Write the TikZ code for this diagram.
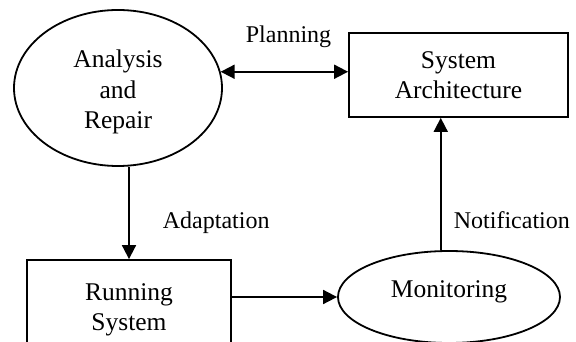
\documentclass[tikz,border=0pt]{standalone}
\usepackage{fontspec}
\setmainfont{Liberation Serif}
\usetikzlibrary{shapes.geometric,arrows.meta}
\begin{document}
\begin{tikzpicture}[x=1pt,y=-1pt,
  line width=1.8pt,
  every node/.style={inner sep=0pt},
  maintext/.style={font=\fontsize{25.5}{30.5}\selectfont, align=center},
  flowlabel/.style={font=\fontsize{24}{28}\selectfont},
  oval/.style={draw, ellipse, maintext},
  block/.style={draw, rectangle, maintext},
  flow/.style={-{Triangle[length=14pt,width=14pt]}},
  twoway/.style={{Triangle[length=14pt,width=14pt]}-{Triangle[length=14pt,width=14pt]}}]
  \useasboundingbox (0,0) rectangle (576,342);
  \clip (0,0) rectangle (576,342);

  % the four parts of the adaptation loop
  \node[oval, minimum width=208pt, minimum height=156pt] (analysis) at (118,88)
    {\raisebox{-4pt}[\height][\depth]{\begin{tabular}{@{}c@{}}Analysis\\and\\Repair\end{tabular}}};
  \node[block, minimum width=219pt, minimum height=84pt] (arch) at (458.5,75)
    {System\\Architecture};
  \node[block, minimum width=204pt, minimum height=100pt] (run) at (129,310)
    {Running\\System};
  \node[oval, minimum width=222pt, minimum height=92pt] (mon) at (449,297)
    {\raisebox{5pt}[\height][\depth]{Monitoring}};

  % connectors
  \draw[twoway] (analysis.9.5) -- (analysis.9.5 -| arch.west);
  \draw[flow] (analysis.south -| run.north) -- (run.north);
  \draw[flow] (run.east |- mon.west) -- (mon.west);
  \draw[flow] (mon.100) -- (mon.100 |- arch.south);

  % connector labels
  \node[flowlabel, anchor=base west] (lplan) at (245,43) {Planning};
  \node[flowlabel, anchor=base west] (ladapt) at (162,228) {Adaptation};
  \node[flowlabel, anchor=base west] (lnotif) at (453,228) {Notification};
\end{tikzpicture}
\end{document}
